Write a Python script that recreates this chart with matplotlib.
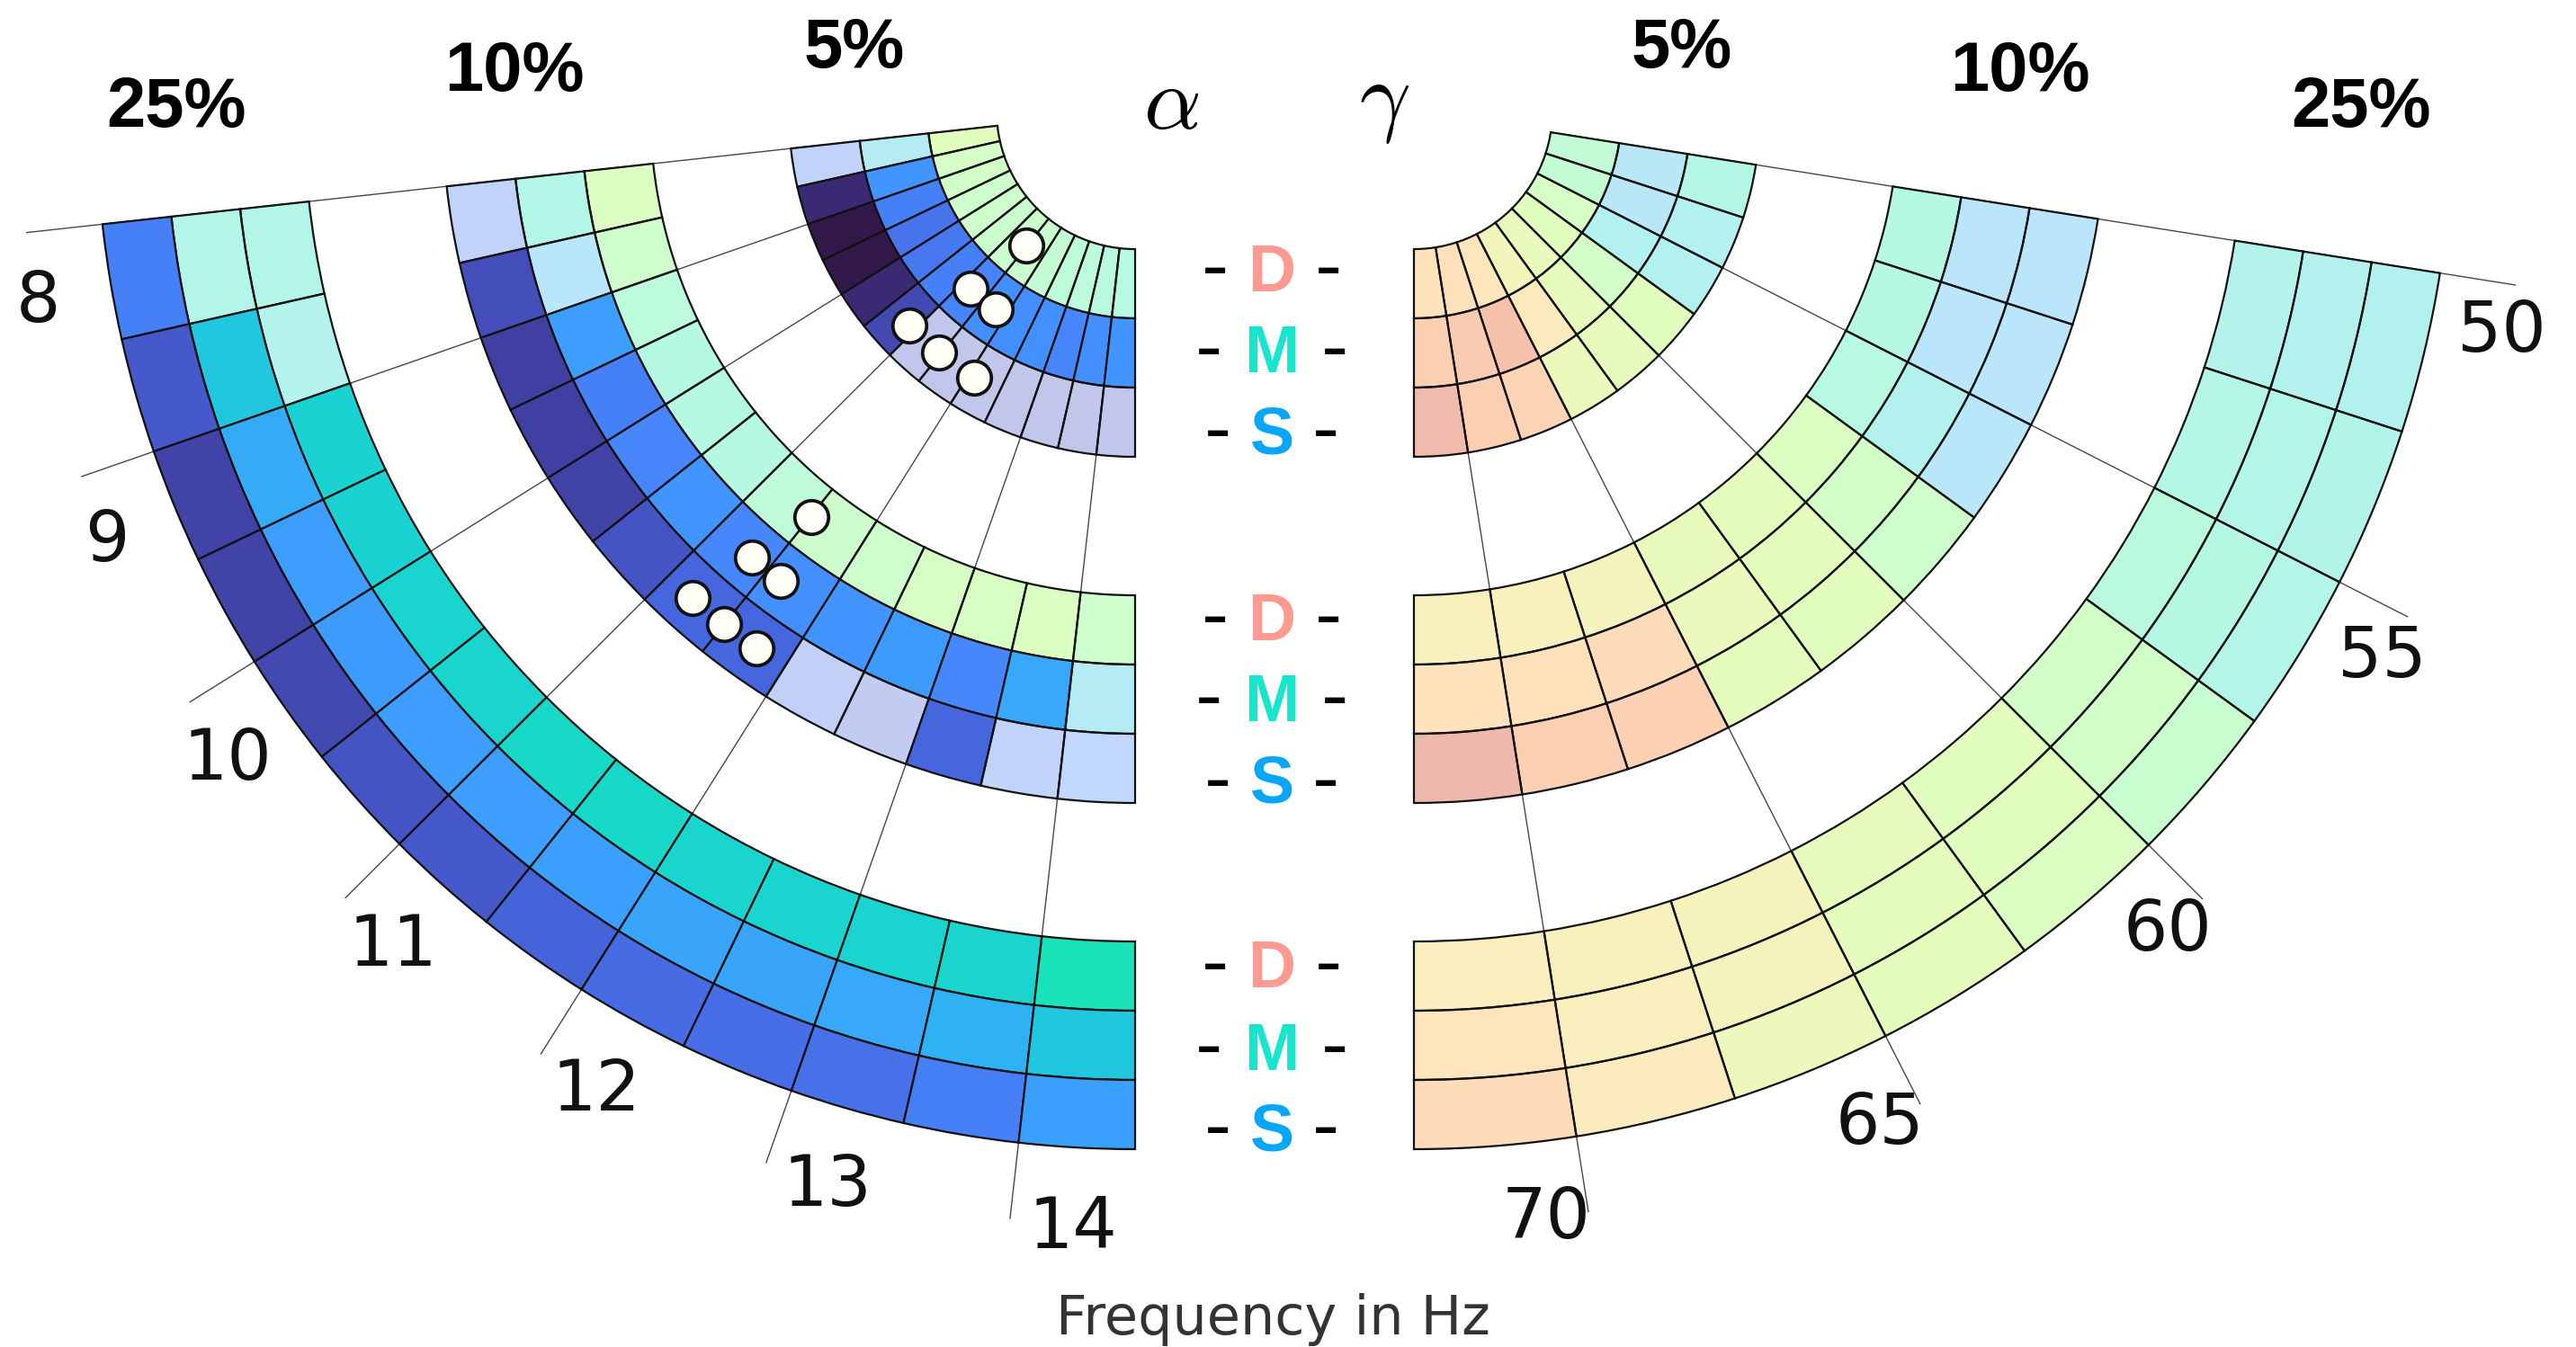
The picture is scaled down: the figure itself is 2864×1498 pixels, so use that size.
import numpy as np
import matplotlib
matplotlib.use("Agg")
import matplotlib.pyplot as plt
from matplotlib import colors as mcolors

plt.rcParams['mathtext.fontset'] = 'cm'
plt.rcParams['font.family'] = ['DejaVu Sans']

# ---------------- data ----------------
alpha_bins = [8.0, 8.5, 9.0, 9.5, 10.0, 10.5, 11.0, 11.5, 12.0, 12.5, 13.0, 13.5, 14.0]
alpha_ticks = [8, 9, 10, 11, 12, 13, 14]
gamma_bins = [50.0, 52.5, 55.0, 57.5, 60.0, 62.5, 65.0, 67.5, 70.0]
gamma_ticks = [50, 55, 60, 65, 70]
levels = ["5%", "10%", "25%"]
groups = ["D", "M", "S"]

# alpha band, normalised effect values (turbo scale 0..1) and significance masks
a5_D = [0.50, 0.46, 0.45, 0.44, 0.44, 0.43, 0.43, 0.42, 0.41, 0.39, 0.38, 0.37, 0.36]
a5_D_sig = [0, 0, 0, 0, 0, 0, 0, 0, 0, 0, 0, 0, 0]
a5_M = [0.27, 0.19, 0.16, 0.14, 0.145, 0.16, 0.165, 0.18, 0.18, 0.185, 0.165, 0.18, 0.19]
a5_M_sig = [0, 1, 1, 1, 1, 1, 1, 1, 1, 1, 1, 1, 1]
a5_S = [0.15, 0.035, 0.01, 0.01, 0.035, 0.075, 0.09, 0.09, 0.09, 0.09, 0.09, 0.09, 0.09]
a5_S_sig = [0, 1, 1, 1, 1, 1, 0, 0, 0, 0, 0, 0, 0]

a10_D = [0.48, 0.44, 0.38, 0.35, 0.35, 0.35, 0.39, 0.43, 0.44, 0.47, 0.47, 0.48, 0.44]
a10_D_sig = [0, 0, 0, 0, 0, 0, 0, 0, 0, 0, 0, 0, 0]
a10_M = [0.33, 0.24, 0.205, 0.16, 0.165, 0.19, 0.17, 0.18, 0.19, 0.20, 0.17, 0.22, 0.27]
a10_M_sig = [0, 0, 1, 1, 1, 1, 1, 1, 1, 1, 1, 1, 0]
a10_S = [0.15, 0.085, 0.065, 0.065, 0.07, 0.09, 0.12, 0.12, 0.13, 0.12, 0.12, 0.15, 0.17]
a10_S_sig = [0, 1, 1, 1, 1, 1, 1, 1, 0, 0, 1, 0, 0]

a25_D = [0.33, 0.31, 0.29, 0.29, 0.295, 0.30, 0.305, 0.305, 0.30, 0.295, 0.295, 0.30, 0.33]
a25_D_sig = [0, 0, 1, 1, 1, 1, 1, 1, 1, 1, 1, 1, 1]
a25_M = [0.33, 0.27, 0.225, 0.205, 0.20, 0.205, 0.205, 0.21, 0.215, 0.215, 0.22, 0.235, 0.27]
a25_M_sig = [0, 1, 1, 1, 1, 1, 1, 1, 1, 1, 1, 1, 1]
a25_S = [0.16, 0.10, 0.07, 0.07, 0.075, 0.09, 0.10, 0.115, 0.125, 0.13, 0.135, 0.16, 0.21]
a25_S_sig = [1, 1, 1, 1, 1, 1, 1, 1, 1, 1, 1, 1, 1]

# gamma band
g5_D = [0.40, 0.41, 0.46, 0.50, 0.54, 0.58, 0.68, 0.70, 0.69]
g5_M = [0.25, 0.25, 0.29, 0.45, 0.53, 0.66, 0.83, 0.79, 0.77]
g5_S = [0.34, 0.29, 0.29, 0.50, 0.53, 0.55, 0.75, 0.77, 0.87]
g10_D = [0.35, 0.35, 0.36, 0.48, 0.52, 0.54, 0.60, 0.62, 0.62]
g10_M = [0.235, 0.235, 0.30, 0.45, 0.52, 0.55, 0.72, 0.70, 0.69]
g10_S = [0.235, 0.235, 0.24, 0.44, 0.50, 0.52, 0.76, 0.77, 0.88]
g25_D = [0.31, 0.34, 0.37, 0.45, 0.50, 0.53, 0.60, 0.62, 0.64]
g25_M = [0.30, 0.33, 0.35, 0.45, 0.50, 0.52, 0.60, 0.63, 0.68]
g25_S = [0.30, 0.32, 0.33, 0.42, 0.48, 0.52, 0.56, 0.65, 0.72]
gamma_sig = [0, 0, 0, 0, 0, 0, 0, 0, 0]

# marker positions (Hz) in the alpha band
alpha_markers_5 = {"D": [11.47], "M": [11.18, 11.78], "S": [10.90, 11.47, 12.09]}
alpha_markers_10 = {"D": [11.51], "M": [11.35, 11.63], "S": [11.22, 11.50, 11.77]}

alpha_data = {
    "5%": {"D": (a5_D, a5_D_sig), "M": (a5_M, a5_M_sig), "S": (a5_S, a5_S_sig)},
    "10%": {"D": (a10_D, a10_D_sig), "M": (a10_M, a10_M_sig), "S": (a10_S, a10_S_sig)},
    "25%": {"D": (a25_D, a25_D_sig), "M": (a25_M, a25_M_sig), "S": (a25_S, a25_S_sig)},
}
gamma_data = {
    "5%": {"D": (g5_D, gamma_sig), "M": (g5_M, gamma_sig), "S": (g5_S, gamma_sig)},
    "10%": {"D": (g10_D, gamma_sig), "M": (g10_M, gamma_sig), "S": (g10_S, gamma_sig)},
    "25%": {"D": (g25_D, gamma_sig), "M": (g25_M, gamma_sig), "S": (g25_S, gamma_sig)},
}

# ---------------- layout ----------------
W, H = 2864, 1498
UNIT = 77.0          # pixels per radial unit
RMAX = 17.0
LEFT_C = (1262, 123)
RIGHT_C = (1572, 123)
ring_base = {"5%": 2, "10%": 7, "25%": 12}
sub_offset = {"D": 0, "M": 1, "S": 2}
NS_ALPHA = 0.33

cmap = plt.get_cmap('turbo')
norm = mcolors.Normalize(vmin=0.0, vmax=1.0)


def ang_alpha(f):
    return 173.72 - (f - 8.0) * 12.88


def ang_gamma(f):
    return 9.0 + (f - 50.0) * 3.6


fig = plt.figure(figsize=(W / 100, H / 100), dpi=100)
fig.patch.set_facecolor('white')


def make_polar(center):
    cx, cy = center
    half = RMAX * UNIT
    rect = [(cx - half) / W, (H - cy - half) / H, 2 * half / W, 2 * half / H]
    ax = fig.add_axes(rect, projection='polar')
    ax.set_theta_zero_location('E')
    ax.set_theta_direction(-1)
    ax.set_facecolor('none')
    ax.axis('off')
    return ax


def draw_band(ax, bins, step, ang, vals, sig, r0):
    a_lo = np.array([ang(b) for b in bins])
    a_hi = np.array([ang(b + step) for b in bins])
    theta = np.deg2rad((a_lo + a_hi) / 2.0)
    width = np.deg2rad(np.abs(a_hi - a_lo))
    rgba = cmap(norm(np.asarray(vals, dtype=float)))
    rgba[:, 3] = np.where(np.asarray(sig) > 0, 1.0, NS_ALPHA)
    ax.bar(theta, np.ones(len(bins)), width=width, bottom=r0, color=rgba,
           edgecolor='#111111', linewidth=1.6, zorder=2, align='center')


axL = make_polar(LEFT_C)
axR = make_polar(RIGHT_C)

for lev in levels:
    for g in groups:
        r0 = ring_base[lev] + sub_offset[g]
        v, s = alpha_data[lev][g]
        draw_band(axL, alpha_bins, 0.5, ang_alpha, v, s, r0)
        v, s = gamma_data[lev][g]
        draw_band(axR, gamma_bins, 2.5, ang_gamma, v, s, r0)

# radial frequency lines and labels
for t in alpha_ticks:
    th = np.deg2rad(ang_alpha(t))
    axL.plot([th, th], [2.0, 16.1], color='#474747', lw=1.0, zorder=1)
    axL.text(np.deg2rad(ang_alpha(t) - 3.25), 16.06, str(t), ha='center',
             va='center_baseline', fontsize=56, color='#111111')
for t in gamma_ticks:
    th = np.deg2rad(ang_gamma(t))
    axR.plot([th, th], [2.0, 16.1], color='#474747', lw=1.0, zorder=1)
    axR.text(np.deg2rad(ang_gamma(t) + 2.15), 16.01, str(t), ha='center',
             va='center_baseline', fontsize=56, color='#111111')

# circle markers
for lev, markers in (("5%", alpha_markers_5), ("10%", alpha_markers_10)):
    for g, fs in markers.items():
        r = ring_base[lev] + sub_offset[g] + 0.5
        th = np.deg2rad([ang_alpha(f) for f in fs])
        axL.plot(th, [r] * len(fs), 'o', ms=27, mfc='#fffef6', mec='#111111',
                 mew=2.7, zorder=4, clip_on=False)

for ax in (axL, axR):
    ax.set_ylim(0, RMAX)
    ax.set_autoscale_on(False)


def ftext(x, y, s, **kw):
    fig.text(x / W, 1 - y / H, s, **kw)


# percentage headers
pct_pos = [("25%", 196, 113), ("10%", 572, 72), ("5%", 950, 46),
           ("5%", 1870, 46), ("10%", 2246, 72), ("25%", 2625, 113)]
for s, x, y in pct_pos:
    ftext(x, y, s, ha='center', va='center_baseline', fontsize=56,
          fontweight='bold', family=['Liberation Sans', 'DejaVu Sans'])

# band symbols
ftext(1302, 143, r'$\alpha$', ha='center', va='baseline', fontsize=72)
ftext(1539, 138, r'$\gamma$', ha='center', va='baseline', fontsize=72)

# group labels
grp_colors = {"D": '#FF9A90', "M": '#17E6CF', "S": '#08A6F8'}
dash_off = {"D": 63, "M": 70, "S": 60}
m_centers = [388, 776, 1163]
for mc in m_centers:
    for g, dy in (("D", -91), ("M", 0), ("S", 91)):
        base = mc + dy + 26.5
        ftext(1414, base, g, ha='center', va='baseline', fontsize=53,
              fontweight='bold', color=grp_colors[g],
              family=['Liberation Sans', 'DejaVu Sans'])
        for sx in (-1, 1):
            ftext(1414 + sx * dash_off[g], base, '-', ha='center', va='baseline',
                  fontsize=60, color='black')

ftext(1415, 1461, 'Frequency in Hz', ha='center', va='center_baseline',
      fontsize=43.5, color='#333333')

fig.savefig('out.png', dpi=100, facecolor='white')
